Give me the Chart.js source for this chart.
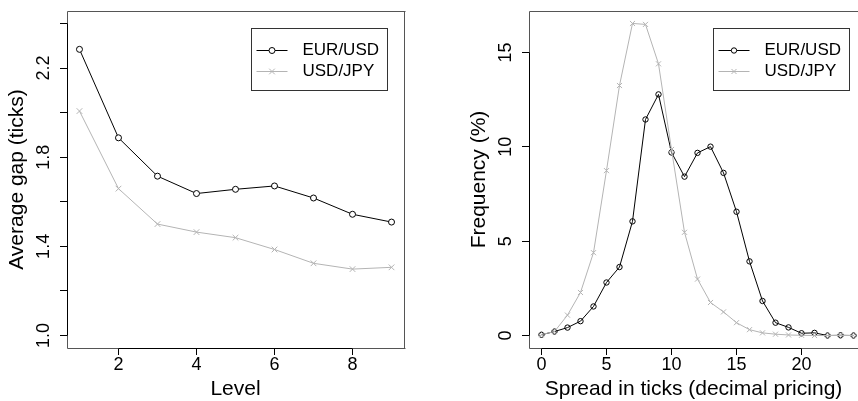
<!DOCTYPE html>
<html>
<head>
<meta charset="utf-8">
<script src="https://cdn.jsdelivr.net/npm/chart.js@4.4.1/dist/chart.umd.min.js"></script>
<style>
  html, body { margin: 0; padding: 0; background: #fff; overflow: hidden; }
  body { width: 858px; height: 401px; position: relative; }
  #left { position: absolute; left: 0; top: 0; }
  #right { position: absolute; left: 430px; top: 0; }
</style>
</head>
<body>
<canvas id="left" width="430" height="401"></canvas>
<canvas id="right" width="428" height="401"></canvas>
<script>
// series names (legend)
const seriesNames = ['EUR/USD', 'USD/JPY'];

// left panel: average gap by book level
const levels = [1, 2, 3, 4, 5, 6, 7, 8, 9];
const gapEurUsd = [2.284, 1.887, 1.715, 1.637, 1.656, 1.671, 1.617, 1.544, 1.509];
const gapUsdJpy = [2.007, 1.659, 1.500, 1.464, 1.439, 1.386, 1.324, 1.298, 1.306];
const levelTicks = [2, 4, 6, 8];
const gapTicks = [1.0, 1.2, 1.4, 1.6, 1.8, 2.0, 2.2, 2.4];
const gapTickLabels = ['1.0', '', '1.4', '', '1.8', '', '2.2', ''];

// right panel: spread distribution
const spreadTicks = [0, 1, 2, 3, 4, 5, 6, 7, 8, 9, 10, 11, 12, 13, 14, 15, 16, 17, 18, 19, 20, 21, 22, 23, 24];
const freqEurUsd = [0.04, 0.21, 0.42, 0.76, 1.54, 2.81, 3.63, 6.05, 11.45, 12.78, 9.70, 8.42, 9.68, 10.01, 8.62, 6.56, 3.93, 1.83, 0.68, 0.43, 0.12, 0.14, 0.0, 0.01, 0.0];
const freqUsdJpy = [0.05, 0.21, 1.08, 2.28, 4.39, 8.74, 13.25, 16.54, 16.49, 14.40, 9.86, 5.47, 2.99, 1.75, 1.25, 0.68, 0.31, 0.14, 0.07, 0.03, 0.01, 0.0, 0.0, 0.0, 0.0];
const spreadAxisTicks = [0, 5, 10, 15, 20];
const freqTicks = [0, 5, 10, 15];

const GREY = '#b4b4b4';
Chart.defaults.font.family = '"Liberation Sans", Arial, Helvetica, sans-serif';
Chart.defaults.color = '#000';

const pts = (xs, ys) => xs.map((x, i) => ({x: x, y: ys[i]}));

// R-like frame: grey box round the plot region, black axis lines from first to last tick, boxed legend
const rFrame = {
  id: 'rFrame',
  afterDraw(chart, args, opts) {
    const {ctx, chartArea: a} = chart;
    const xs = chart.scales.x, ys = chart.scales.y;
    const L = Math.floor(a.left) + 0.5, R = Math.floor(a.right) + 0.5;
    const T = Math.floor(a.top) + 0.5, B = Math.floor(a.bottom) + 0.5;
    ctx.save();
    ctx.lineWidth = 1;
    ctx.strokeStyle = '#555';
    ctx.beginPath();
    ctx.moveTo(R + 1, T); ctx.lineTo(L, T); ctx.lineTo(L, B); ctx.lineTo(R + 1, B);
    if (!opts.openRight) { ctx.moveTo(R, T); ctx.lineTo(R, B); }
    ctx.stroke();
    ctx.strokeStyle = '#000';
    ctx.beginPath();
    ctx.moveTo(xs.getPixelForValue(xs.ticks[0].value), B);
    ctx.lineTo(xs.getPixelForValue(xs.ticks[xs.ticks.length - 1].value), B);
    ctx.moveTo(L, ys.getPixelForValue(ys.ticks[0].value));
    ctx.lineTo(L, ys.getPixelForValue(ys.ticks[ys.ticks.length - 1].value));
    ctx.stroke();

    // legend
    const w = 136, h = 62;
    const x0 = Math.floor(a.right - opts.legendInset - w) + 0.5, y0 = Math.floor(a.top + 17) + 0.5;
    ctx.strokeStyle = '#333';
    ctx.strokeRect(x0, y0, w, h);
    ctx.font = '17px "Liberation Sans", Arial, sans-serif';
    ctx.textBaseline = 'middle';
    seriesNames.forEach((name, i) => {
      const ds = chart.data.datasets.find(d => d.label === name);
      const y = Math.round(y0 + 21 + i * 21) + 0.5;
      ctx.strokeStyle = ds.borderColor;
      ctx.beginPath();
      ctx.moveTo(x0 + 5, y);
      ctx.lineTo(x0 + 36, y);
      ctx.stroke();
      ctx.fillStyle = '#fff';
      Chart.helpers.drawPoint(ctx, {pointStyle: ds.pointStyle, radius: ds.pointRadius, borderWidth: 1}, x0 + 20.5, y);
      ctx.fillStyle = '#000';
      ctx.fillText(name, x0 + 51, y);
    });
    ctx.restore();
  }
};

function setTicks(list) {
  return s => { s.ticks = list.map(v => ({value: v})); };
}

function makeChart(id, cfg) {
  return new Chart(document.getElementById(id), {
    type: 'line',
    data: {datasets: cfg.datasets},
    options: {
      responsive: false,
      animation: false,
      devicePixelRatio: 1,
      layout: {autoPadding: false, padding: {left: 0, top: 11, right: cfg.padRight, bottom: 0}},
      plugins: {
        legend: {display: false},
        tooltip: {enabled: false},
        rFrame: {openRight: cfg.openRight, legendInset: cfg.legendInset}
      },
      scales: {
        x: {
          type: 'linear',
          min: cfg.xMin, max: cfg.xMax,
          afterBuildTicks: setTicks(cfg.xTicks),
          afterFit: s => { s.height = 53; s.paddingLeft = 0; s.paddingRight = 0; },
          border: {display: false},
          grid: {drawOnChartArea: false, color: '#000', tickLength: 7, lineWidth: 1},
          ticks: {autoSkip: false, maxRotation: 0, padding: 1, font: {size: 18, lineHeight: 1}, color: '#000'},
          title: {display: true, text: cfg.xTitle, font: {size: 21, lineHeight: 1}, color: '#000', padding: {top: 0, bottom: 1}}
        },
        y: {
          type: 'linear',
          min: cfg.yMin, max: cfg.yMax,
          afterBuildTicks: setTicks(cfg.yTicks),
          afterFit: s => { s.width = cfg.yWidth; s.paddingTop = 0; s.paddingBottom = 0; },
          border: {display: false},
          grid: {drawOnChartArea: false, color: '#000', tickLength: 7, lineWidth: 1},
          ticks: {
            autoSkip: false, minRotation: 90, maxRotation: 90, crossAlign: 'center',
            padding: cfg.yTickPad, font: {size: 18, lineHeight: 1}, color: '#000',
            callback: cfg.yLabel
          },
          title: {display: true, text: cfg.yTitle, font: {size: 21, lineHeight: 1}, color: '#000', padding: {top: cfg.yTitlePad, bottom: 0}}
        }
      }
    },
    plugins: [rFrame]
  });
}

makeChart('left', {
  padRight: 26, yWidth: 67, yTickPad: 3, yTitlePad: 7, openRight: false, legendInset: 17,
  xMin: 0.68, xMax: 9.32, yMin: 0.944, yMax: 2.456,
  xTicks: levelTicks, yTicks: gapTicks,
  yLabel: (v, i) => gapTickLabels[i],
  xTitle: 'Level', yTitle: 'Average gap (ticks)',
  datasets: [
    {label: 'EUR/USD', data: pts(levels, gapEurUsd), borderColor: '#000', borderWidth: 1,
     pointStyle: 'circle', pointRadius: 3, pointBorderWidth: 1, pointBorderColor: '#000', pointBackgroundColor: '#fff', order: 1},
    {label: 'USD/JPY', data: pts(levels, gapUsdJpy), borderColor: GREY, borderWidth: 1,
     pointStyle: 'crossRot', pointRadius: 4, pointBorderWidth: 1, pointBorderColor: GREY, order: 0}
  ]
});

// the original picture is cut at the right: the plot region continues past the edge (to x = 24.96)
makeChart('right', {
  padRight: 0, yWidth: 99, yTickPad: 5.5, yTitlePad: 39, openRight: true, legendInset: 9,
  xMin: -0.96, xMax: 24.344, yMin: -0.662, yMax: 17.2,
  xTicks: spreadAxisTicks, yTicks: freqTicks,
  yLabel: v => String(v),
  xTitle: 'Spread in ticks (decimal pricing)', yTitle: 'Frequency (%)',
  datasets: [
    {label: 'EUR/USD', data: pts(spreadTicks, freqEurUsd), borderColor: '#000', borderWidth: 1,
     pointStyle: 'circle', pointRadius: 2.7, pointBorderWidth: 1, pointBorderColor: '#000', pointBackgroundColor: 'rgba(0,0,0,0)', order: 1,
     clip: {left: 5, top: 5, right: 8, bottom: 5}},
    {label: 'USD/JPY', data: pts(spreadTicks, freqUsdJpy), borderColor: GREY, borderWidth: 1,
     pointStyle: 'crossRot', pointRadius: 3.6, pointBorderWidth: 1, pointBorderColor: GREY, order: 0,
     clip: {left: 5, top: 5, right: 8, bottom: 5}}
  ]
});
</script>
</body>
</html>
